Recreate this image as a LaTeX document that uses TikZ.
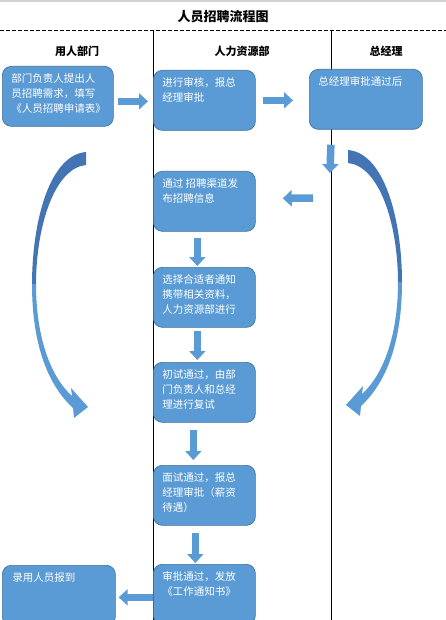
\documentclass[tikz,border=0pt]{standalone}
\usepackage{fontspec}
\usepackage{tikz}
\usetikzlibrary{arrows.meta}
\newfontfamily\cjk{Noto Sans CJK SC}
\definecolor{boxblue}{RGB}{91,155,213}
\definecolor{boxline}{RGB}{65,113,156}
\definecolor{curvedark}{RGB}{67,117,181}
\newcommand{\boxtext}[2]{\parbox[t][46pt][t]{#1}{\raggedright #2}}

\begin{document}
\begin{tikzpicture}[x=1pt,y=-1pt,
	box/.style={draw=boxline, fill=boxblue, line width=0.7pt, rounded corners=9pt, anchor=north west, inner xsep=9pt, inner ysep=7pt, text=white, font=\cjk\fontsize{10.5}{15}\selectfont},
	fat/.style={draw=boxblue, line width=7.5pt, -{Triangle[length=9pt,width=16pt]}},
	lane/.style={line width=0.8pt},
	head/.style={font=\cjk\bfseries\fontsize{11}{13}\selectfont},
	bendarrow/.pic={
		\fill[curvedark] (86,152) .. controls (50,155) and (32,220) .. (32,285) -- (36,285) .. controls (36,225) and (55,168) .. (86,165) -- cycle;
		\fill[boxblue] (32,284) .. controls (32,345) and (48,385) .. (73,408) -- (74,418) -- (88,407) -- (71,388) -- (72,396) .. controls (52,378) and (36,340) .. (36,284) -- cycle;
	}]
	
	\useasboundingbox (0,0) rectangle (446,620);
	\clip (0,0) rectangle (446,620);
	
	\draw[gray!35, line width=2pt] (0,1) -- (446,1);
	\node[font=\cjk\bfseries\fontsize{13}{15}\selectfont] (title) at (223,17) {人员招聘流程图};
	\draw[lane, dash pattern=on 4pt off 2pt] (0,30) -- (446,30);
	\draw[lane] (153,30) -- (153,620);
	\draw[lane] (331,30) -- (331,620);
	
	\node[head] (deptlane) at (77,51) {用人部门};
	\node[head] (hrlane) at (242,51) {人力资源部};
	\node[head] (gmlane) at (386,51) {总经理};
	
	\node[box] (dept) at (2,66) {\boxtext{93pt}{部门负责人提出人\\员招聘需求，填写\\《人员招聘申请表》}};
	\node[box] (review) at (153,70) {\boxtext{84pt}{进行审核，报总\\经理审批}};
	\node[box] (gm) at (309,69) {\boxtext{95pt}{总经理审批通过后}};
	\node[box] (publish) at (153,171) {\boxtext{84pt}{通过 招聘渠道发\\布招聘信息}};
	\node[box] (select) at (153,267) {\boxtext{84pt}{选择合适者通知\\携带相关资料，\\人力资源部进行}};
	\node[box] (retest) at (153,362) {\boxtext{84pt}{初试通过，由部\\门负责人和总经\\理进行复试}};
	\node[box] (interview) at (153,465) {\boxtext{84pt}{面试通过，报总\\经理审批（薪资\\待遇）}};
	\node[box] (notice) at (153,564) {\boxtext{84pt}{审批通过，发放\\《工作通知书》}};
	\node[box, inner xsep=10pt] (report) at (2,565) {\boxtext{93pt}{录用人员报到}};
	
	\coordinate (gmturn) at (330,173);
	\coordinate (hrturn) at (313,198);
	
	\draw[fat] ([shift={(4,5)}]dept.east) -- ([shift={(-5,1)}]review.west);
	\draw[fat] ([shift={(7,0)}]review.east) -- ([shift={(-16,1)}]gm.west);
	\draw[fat] ([shift={(-35,15)}]gm.south) -- (gmturn);
	\draw[fat] (hrturn) -- ([shift={(27,-3)}]publish.east);
	\draw[fat] ([shift={(-7,6)}]publish.south) -- ([shift={(-7,-1)}]select.north);
	\draw[fat] ([shift={(-7,3)}]select.south) -- ([shift={(-7,-2)}]retest.north);
	\draw[fat] ([shift={(-11,7)}]retest.south) -- ([shift={(-11,-5)}]interview.north);
	\draw[fat] ([shift={(-9,7)}]interview.south) -- ([shift={(-9,-1)}]notice.north);
	\draw[fat] ([shift={(0,3)}]notice.west) -- ([shift={(3,2)}]report.east);
	
	\pic at (0,0) {bendarrow};
	\pic[xscale=-1] at (434,-2) {bendarrow};
	
\end{tikzpicture}
\end{document}
